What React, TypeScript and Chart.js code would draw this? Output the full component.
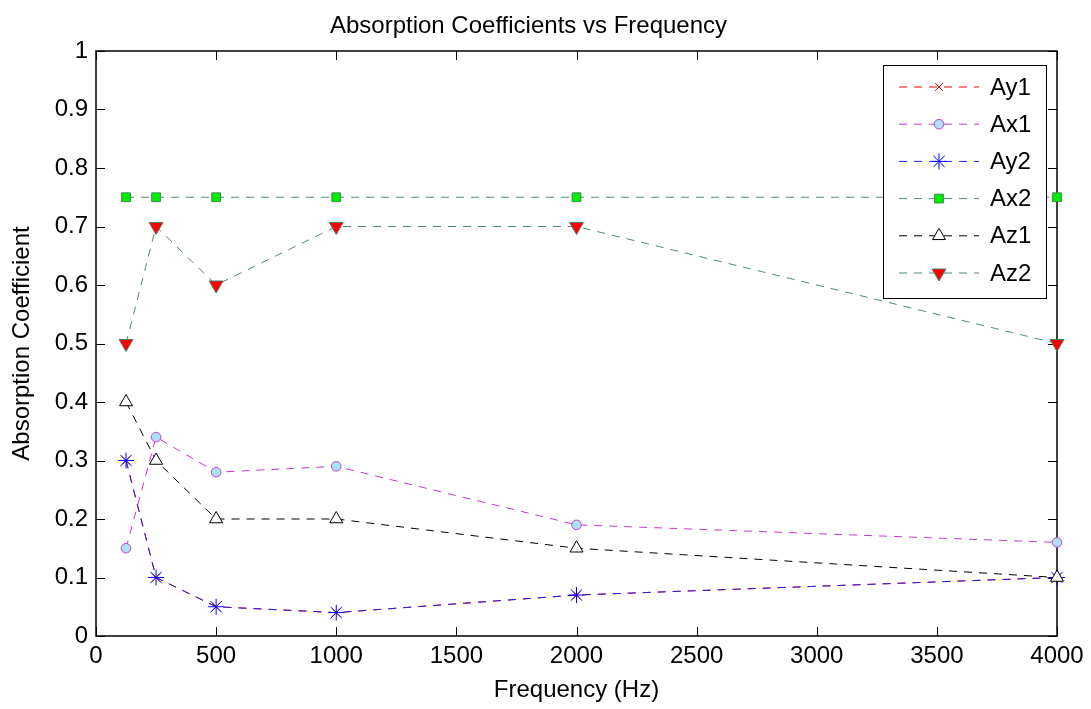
import React, { useEffect, useRef } from 'react';
import { Chart, registerables } from 'chart.js';
import { drawPoint } from 'chart.js/helpers';

Chart.register(...registerables);

// Octave-band centre frequencies (Hz)
const frequencies = [125, 250, 500, 1000, 2000, 4000];

// Absorption coefficients per surface
const ay1 = [0.3, 0.1, 0.05, 0.04, 0.07, 0.1];
const ax1 = [0.15, 0.34, 0.28, 0.29, 0.19, 0.16];
const ay2 = [0.3, 0.1, 0.05, 0.04, 0.07, 0.1];
const ax2 = [0.75, 0.75, 0.75, 0.75, 0.75, 0.75];
const az1 = [0.4, 0.3, 0.2, 0.2, 0.15, 0.1];
const az2 = [0.5, 0.7, 0.6, 0.7, 0.7, 0.5];

const seriesLabels = ['Ay1', 'Ax1', 'Ay2', 'Ax2', 'Az1', 'Az2'];

const FONT = '"Liberation Sans", Arial, sans-serif';
const FONT_SIZE = 24;
const DASH = [8, 7];

const toPoints = (ys: number[]) => frequencies.map((x, i) => ({ x, y: ys[i] }));

// Box frame with inward ticks on all four sides
const framePlugin = {
  id: 'frameTicks',
  beforeDatasetsDraw(chart: any) {
    const { ctx, chartArea } = chart;
    const { left, right, top, bottom } = chartArea;
    const xs = chart.scales.x;
    const ys = chart.scales.y;
    const len = 9;
    ctx.save();
    ctx.strokeStyle = '#000';
    ctx.lineWidth = 1;
    ctx.setLineDash([]);
    ctx.beginPath();
    xs.ticks.forEach((t: any) => {
      const px = Math.round(xs.getPixelForValue(t.value)) + 0.5;
      ctx.moveTo(px, bottom);
      ctx.lineTo(px, bottom - len);
      ctx.moveTo(px, top);
      ctx.lineTo(px, top + len);
    });
    ys.ticks.forEach((t: any) => {
      const py = Math.round(ys.getPixelForValue(t.value)) + 0.5;
      ctx.moveTo(left, py);
      ctx.lineTo(left + len, py);
      ctx.moveTo(right, py);
      ctx.lineTo(right - len, py);
    });
    ctx.stroke();
    ctx.lineWidth = 1.5;
    ctx.strokeRect(left, top, right - left, bottom - top);
    ctx.restore();
  },
};

// Boxed legend with dashed line sample and marker, drawn over the data
const boxLegendPlugin = {
  id: 'boxLegend',
  afterDatasetsDraw(chart: any) {
    const { ctx, chartArea } = chart;
    const boxRight = chartArea.right - 11;
    const boxLeft = boxRight - 163;
    const boxTop = chartArea.top + 14;
    const rowH = 37.2;
    const boxH = 233;
    ctx.save();
    ctx.fillStyle = '#fff';
    ctx.fillRect(boxLeft, boxTop, boxRight - boxLeft, boxH);
    ctx.strokeStyle = '#000';
    ctx.lineWidth = 1;
    ctx.setLineDash([]);
    ctx.strokeRect(boxLeft + 0.5, boxTop + 0.5, boxRight - boxLeft, boxH);
    chart.data.datasets.forEach((ds: any, i: number) => {
      const y = boxTop + 22 + i * rowH;
      ctx.strokeStyle = ds.borderColor;
      ctx.lineWidth = 1;
      ctx.setLineDash(DASH);
      ctx.beginPath();
      ctx.moveTo(boxLeft + 16, y);
      ctx.lineTo(boxLeft + 96, y);
      ctx.stroke();
      ctx.setLineDash([]);
      ctx.fillStyle = ds.pointBackgroundColor;
      ctx.strokeStyle = ds.pointBorderColor;
      ctx.lineWidth = 1;
      drawPoint(
        ctx,
        {
          pointStyle: ds.pointStyle,
          radius: ds.pointRadius,
          rotation: ds.pointRotation || 0,
          borderWidth: 1,
        },
        boxLeft + 56,
        y
      );
      ctx.fillStyle = '#000';
      ctx.font = `${FONT_SIZE}px ${FONT}`;
      ctx.textBaseline = 'middle';
      ctx.textAlign = 'left';
      ctx.fillText(ds.label, boxLeft + 107, y + 1);
    });
    ctx.restore();
  },
};

const lineBase = {
  borderWidth: 1,
  borderDash: DASH,
  pointBorderWidth: 1,
  tension: 0,
  fill: false,
  clip: false as any,
};

export default function App() {
  const canvasRef = useRef<HTMLCanvasElement | null>(null);

  useEffect(() => {
    if (!canvasRef.current) return;
    const chart = new Chart(canvasRef.current, {
      type: 'line',
      data: {
        datasets: [
          {
            ...lineBase,
            label: seriesLabels[0],
            data: toPoints(ay1),
            borderColor: '#ff0000',
            pointStyle: 'crossRot',
            pointRadius: 5.5,
            pointBackgroundColor: '#ff0000',
            pointBorderColor: '#ff0000',
            order: 5,
          },
          {
            ...lineBase,
            label: seriesLabels[1],
            data: toPoints(ax1),
            borderColor: '#cc33cc',
            pointStyle: 'circle',
            pointRadius: 4.8,
            pointBackgroundColor: '#a8e2f4',
            pointBorderColor: '#c840c8',
            order: 4,
          },
          {
            ...lineBase,
            label: seriesLabels[2],
            data: toPoints(ay2),
            borderColor: '#2020ee',
            pointStyle: 'star',
            pointRadius: 8,
            pointBackgroundColor: '#0000ff',
            pointBorderColor: '#0000ff',
            order: 3,
          },
          {
            ...lineBase,
            label: seriesLabels[3],
            data: toPoints(ax2),
            borderColor: '#4f8a6c',
            pointStyle: 'rect',
            pointRadius: 6.2,
            pointBackgroundColor: '#00ee00',
            pointBorderColor: '#3a8a50',
            order: 2,
          },
          {
            ...lineBase,
            label: seriesLabels[4],
            data: toPoints(az1),
            borderColor: '#000000',
            pointStyle: 'triangle',
            pointRadius: 7.5,
            pointBackgroundColor: '#ffffff',
            pointBorderColor: '#000000',
            order: 1,
          },
          {
            ...lineBase,
            label: seriesLabels[5],
            data: toPoints(az2),
            borderColor: '#4f8a6c',
            pointStyle: 'triangle',
            pointRotation: 180,
            pointRadius: 8,
            pointBackgroundColor: '#ff0000',
            pointBorderColor: '#4f7a60',
            order: 0,
          },
        ] as any,
      },
      options: {
        animation: false,
        responsive: false,
        maintainAspectRatio: false,
        layout: { padding: { top: 0, right: 34, bottom: 0, left: 0 } },
        plugins: {
          legend: { display: false },
          tooltip: { enabled: false },
          title: {
            display: true,
            text: 'Absorption Coefficients vs Frequency',
            color: '#000',
            font: { family: FONT, size: FONT_SIZE, weight: 'normal' },
            padding: { top: 12, bottom: 10.2 },
          },
        },
        scales: {
          x: {
            type: 'linear',
            min: 0,
            max: 4000,
            ticks: {
              stepSize: 500,
              color: '#000',
              font: { family: FONT, size: FONT_SIZE },
              padding: 6,
              maxRotation: 0,
              callback: (v: any) => String(v),
            },
            grid: { display: false, drawTicks: false },
            border: { display: false },
            title: {
              display: true,
              text: 'Frequency (Hz)',
              color: '#000',
              font: { family: FONT, size: FONT_SIZE },
              padding: { top: 0, bottom: 4.6 },
            },
            afterFit: (s: any) => {
              s.height = 73;
            },
          },
          y: {
            type: 'linear',
            min: 0,
            max: 1,
            ticks: {
              stepSize: 0.1,
              color: '#000',
              font: { family: FONT, size: FONT_SIZE },
              padding: 8,
              callback: (v: any) => String(Number(Number(v).toFixed(1))),
            },
            grid: { display: false, drawTicks: false },
            border: { display: false },
            title: {
              display: true,
              text: 'Absorption Coefficient',
              color: '#000',
              font: { family: FONT, size: FONT_SIZE },
              padding: { top: 8, bottom: 0 },
            },
            afterFit: (s: any) => {
              s.width = 96;
            },
          },
        },
      } as any,
      plugins: [framePlugin, boxLegendPlugin],
    });
    return () => chart.destroy();
  }, []);

  return (
    <div style={{ position: 'absolute', left: 0, top: 0, width: 1091, height: 709, background: '#fff' }}>
      <canvas ref={canvasRef} width={1091} height={709} />
    </div>
  );
}
